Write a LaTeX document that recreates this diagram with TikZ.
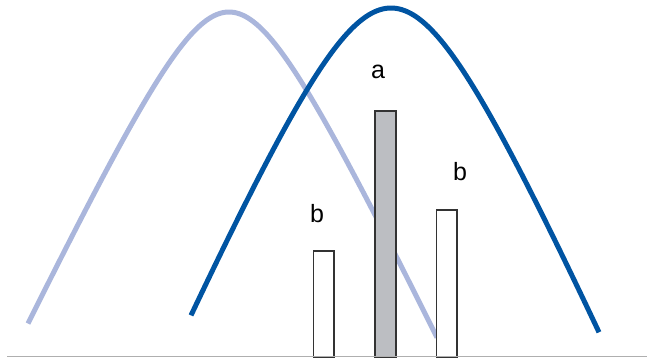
\documentclass[tikz,border=0pt]{standalone}
\usepackage{fontspec}
\setmainfont{Liberation Sans}
\definecolor{lightblue}{RGB}{170,182,220}
\definecolor{darkblue}{RGB}{0,84,162}
\definecolor{bargray}{RGB}{188,190,194}
\definecolor{edgegray}{RGB}{51,51,51}
\definecolor{basegray}{RGB}{175,175,175}
\begin{document}
\begin{tikzpicture}[x=1pt,y=-1pt,
  curve/.style={line width=5pt, line cap=butt},
  bar/.style={draw=edgegray, line width=1.6pt, fill=white},
  lbl/.style={inner sep=0pt, font=\fontsize{25}{25}\selectfont, text=black}]
\useasboundingbox (0,0) rectangle (647,357);
% curves
\draw[curve, lightblue] plot[domain=28:437, samples=150] (\x, {12 + 2.1*(100*sqrt(((\x-229)/100)*((\x-229)/100)+0.3844)-62)});
\draw[curve, darkblue] plot[domain=191:599, samples=150] (\x, {8 + 2.27*(100*sqrt(((\x-391)/100)*((\x-391)/100)+0.64)-80)});
% bars
\draw[bar] (313.5,358) rectangle (334,251);
\draw[bar, fill=bargray] (375,358) rectangle (396,111);
\draw[bar] (436.5,358) rectangle (457,210);
% baseline
\coordinate (bl) at (7,356);
\coordinate (br) at (647,356);
\draw[basegray, line width=1pt] (bl) -- (br);
% labels
\node[lbl] (la) at (378,72) {a};
\node[lbl] (lb1) at (317,214) {b};
\node[lbl] (lb2) at (460,172) {b};
\end{tikzpicture}
\end{document}
